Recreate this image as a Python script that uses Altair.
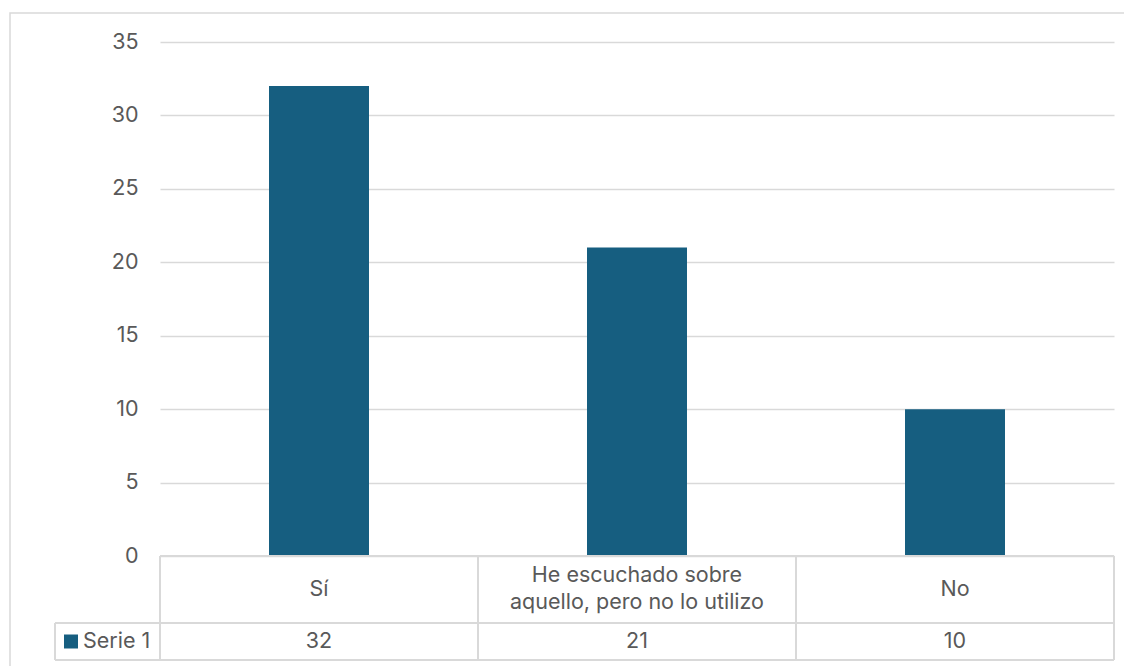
import altair as alt
import pandas as pd

# ---- data ----
categories = ["Sí", "He escuchado sobre aquello, pero no lo utilizo", "No"]
category_lines = [["Sí"], ["He escuchado sobre", "aquello, pero no lo utilizo"], ["No"]]
values = [32, 21, 10]
series_name = "Serie 1"
y_ticks = [0, 5, 10, 15, 20, 25, 30, 35]

BAR = "#165E80"
GRID = "#D9D9D9"
TXT = "#595959"
FONT = "Inter"
FS = 21.5
LH = 27

W, H = 954, 514

df = pd.DataFrame({
    "cat": categories,
    "label": category_lines,
    "nlines": [len(l) for l in category_lines],
    "value": values,
})
one = pd.DataFrame({"a": [0]})

xenc = alt.X("cat:N", sort=categories,
             scale=alt.Scale(paddingInner=0, paddingOuter=0), axis=None)

# outer chart border
border = alt.Chart(one).mark_rect(fill=None, stroke=GRID, strokeWidth=1.5).encode(
    x=alt.value(-150), x2=alt.value(980), y=alt.value(-29), y2=alt.value(700)
)

bars = alt.Chart(df).mark_bar(color=BAR, width=alt.RelativeBandSize(100 / 318)).encode(
    x=xenc,
    y=alt.Y("value:Q", scale=alt.Scale(domain=[0, 35], nice=False),
            axis=alt.Axis(values=y_ticks, title=None, domain=False, ticks=False,
                          labelFontSize=FS, labelColor=TXT, labelFont=FONT,
                          labelPadding=22, grid=True, gridColor=GRID,
                          gridWidth=1.5)),
)

# data table grid lines (decoration, pixel positions)
hlines = pd.DataFrame({
    "x": [0, -105, -105],
    "x2": [W, W, W],
    "y": [H, H + 67, H + 104],
})
vlines = pd.DataFrame({
    "x": [-105, 0, 318, 636, W],
    "y": [H + 67, H, H, H, H],
    "y2": [H + 104] * 5,
})
hrule = alt.Chart(hlines).mark_rule(color=GRID, strokeWidth=2).encode(
    x=alt.X("x:Q", scale=None), x2="x2:Q", y=alt.Y("y:Q", scale=None)
)
vrule = alt.Chart(vlines).mark_rule(color=GRID, strokeWidth=2).encode(
    x=alt.X("x:Q", scale=None), y=alt.Y("y:Q", scale=None), y2="y2:Q"
)

cat_text = alt.Chart(df).transform_calculate(
    ty=f"{H + 33.5} - (datum.nlines - 1) * {LH / 2}"
).mark_text(
    font=FONT, fontSize=FS, color=TXT, lineHeight=LH,
    baseline="middle", align="center"
).encode(x=xenc, y=alt.Y("ty:Q", scale=None), text="label")

val_text = alt.Chart(df).mark_text(
    font=FONT, fontSize=FS, color=TXT, baseline="middle", align="center"
).encode(x=xenc, y=alt.value(H + 85.5), text="value:Q")

legend_sq = alt.Chart(one).mark_rect(color=BAR).encode(
    x=alt.value(-96), x2=alt.value(-82), y=alt.value(H + 78.5), y2=alt.value(H + 92.5)
)
legend_txt = alt.Chart(pd.DataFrame({"name": [series_name]})).mark_text(
    font=FONT, fontSize=FS, color=TXT, baseline="middle", align="left"
).encode(x=alt.value(-77), y=alt.value(H + 85.5), text="name:N")

chart = alt.layer(border, bars, hrule, vrule, cat_text, val_text, legend_sq, legend_txt).properties(
    width=W, height=H,
    autosize=alt.AutoSizeParams(type="none"),
    padding={"left": 152, "top": 34, "right": 10, "bottom": 120},
).configure(background="white").configure_view(strokeWidth=0, stroke="transparent")

chart.save("out.html", embed_options={"renderer": "svg", "actions": False})
